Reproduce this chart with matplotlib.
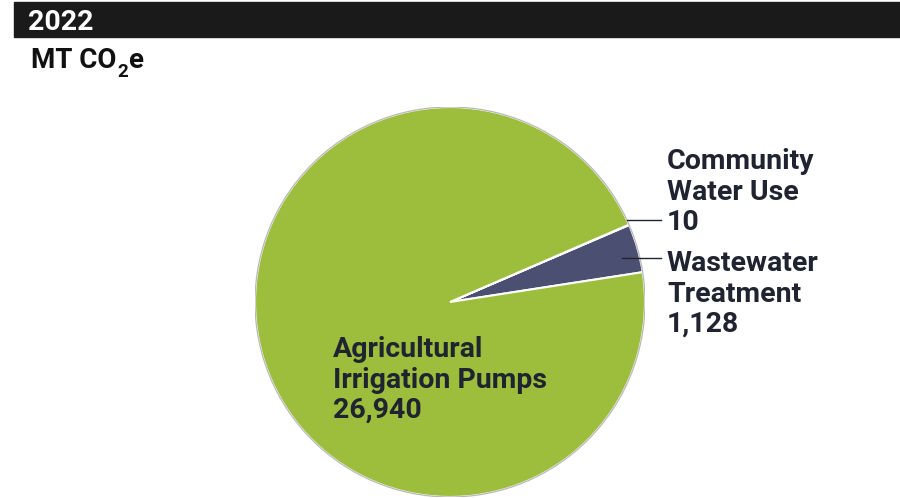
import matplotlib.pyplot as plt
import matplotlib.patches as mpatches
import numpy as np

plt.rcParams['font.family'] = ['Roboto', 'DejaVu Sans']

###################################################################################################
########################################### DATA ##################################################
###################################################################################################
year = '2022'
unit_parts = ['MT CO', '2', 'e']   # MT CO2e, with subscript 2
categories = ['Wastewater\nTreatment', 'Community\nWater Use', 'Agricultural\nIrrigation Pumps']
values = [1128, 10, 26940]
value_labels = ['1,128', '10', '26,940']
colors = ['#4b5072', '#b4c3f0', '#9dbe3c']
text_color = '#1f2430'

###################################################################################################

W, H = 900, 498
fig = plt.figure(figsize=(W / 100, H / 100), dpi=100)

# pie axes: centre (450, 302) px, radius 195 px
cx, cy, r_px = 450, 302, 195
ax = fig.add_axes([(cx - r_px) / W, (H - cy - r_px) / H, 2 * r_px / W, 2 * r_px / H])
ax.axis('off')

def px(x, y):
    # pixel position -> pie data coords
    return (x - cx) / r_px, (cy - y) / r_px

wedges, _ = ax.pie(values, colors=colors, startangle=8.8, counterclock=True, radius=1,
                   wedgeprops=dict(edgecolor='white', linewidth=1.5))
ax.add_patch(mpatches.Circle((0, 0), 1.0, fill=False, edgecolor='#b8b8b8', linewidth=0.9))
ax.set_xlim(-1, 1)
ax.set_ylim(-1, 1)

fs = 20.5
line_gap = 30.5

def draw_label(x0, y0, label, value):
    lines = label.split('\n') + [value]
    for i, s in enumerate(lines):
        tx, ty = px(x0, y0 + i * line_gap)
        ax.text(tx, ty, s, fontsize=fs, fontweight='bold', color=text_color,
                ha='left', va='baseline', clip_on=False)

# leader lines
for w, y_line, r0 in [(wedges[1], 220, 0.99), (wedges[0], 258, 0.92)]:
    ang = np.deg2rad((w.theta1 + w.theta2) / 2)
    x0 = r0 * np.cos(ang)
    x1, y1 = px(661, y_line)
    ax.plot([x0, x1], [y1, y1], color=text_color, linewidth=1.0, clip_on=False)

draw_label(667, 169, categories[1], value_labels[1])
draw_label(667, 271, categories[0], value_labels[0])
draw_label(333, 357, categories[2], value_labels[2])

# header bar
fig.patches.append(mpatches.Rectangle((14 / W, 1 - 37 / H), 1 - 14 / W, 35 / H,
                                      transform=fig.transFigure, color='#1a1a1a', zorder=0))
fig.text(28 / W, 1 - 30.5 / H, year, fontsize=20.5, fontweight='bold', color='white',
         ha='left', va='baseline')

# unit line with subscript
t1 = fig.text(31 / W, 1 - 68.5 / H, unit_parts[0], fontsize=20, fontweight='bold',
              color='#111111', ha='left', va='baseline')
t2 = plt.annotate(unit_parts[1], xy=(1, 0), xycoords=t1, xytext=(0.5, -1.5), textcoords='offset points',
                  fontsize=13.5, fontweight='bold', color='#111111', ha='left', va='baseline',
                  annotation_clip=False)
plt.annotate(unit_parts[2], xy=(1, 0), xycoords=(t2, t1), xytext=(0.5, 0), textcoords='offset points',
             fontsize=20, fontweight='bold', color='#111111', ha='left', va='bottom',
             annotation_clip=False)

fig.savefig('out.png', dpi=100)
